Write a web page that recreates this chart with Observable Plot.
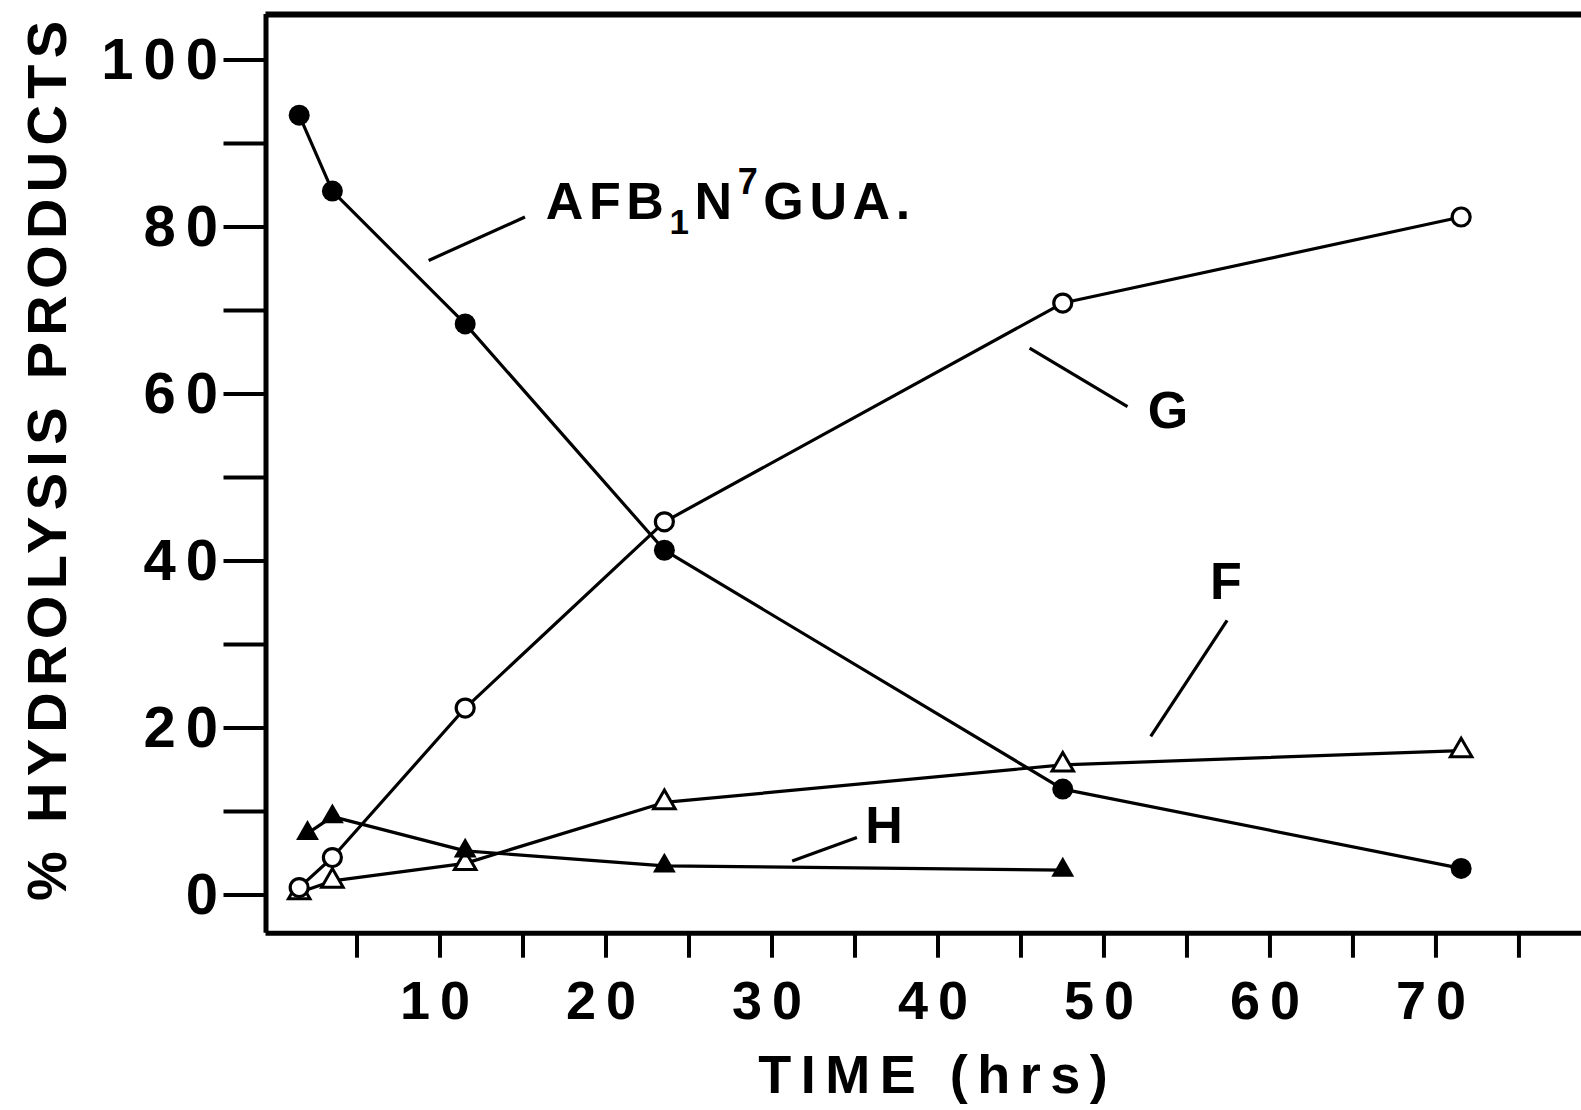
<!DOCTYPE html>
<html>
<head>
<meta charset="utf-8">
<script src="https://cdn.jsdelivr.net/npm/d3@7"></script>
<script src="https://cdn.jsdelivr.net/npm/@observablehq/plot@0.6"></script>
<style>
  html, body { margin: 0; padding: 0; background: #fff; }
  #chart svg { display: block; }
  g[aria-label="y-axis tick label"] text { letter-spacing: 10px; }
  g[aria-label="x-axis tick label"] text { letter-spacing: 10px; }
  g[aria-label="y-axis label"] { font-size: 56px; }
  g[aria-label="y-axis label"] text { letter-spacing: 6.3px; }
  g[aria-label="x-axis label"] { font-size: 54px; }
  g[aria-label="x-axis label"] text { letter-spacing: 9.5px; }
  .annot text { letter-spacing: 5.6px; }
</style>
</head>
<body>
<div id="chart"></div>
<script>
// ---- data ----
const hours = [2, 4, 12, 24, 48, 72];
const afbN7Gua = [93.4, 84.3, 68.4, 41.3, 12.7, 3.2];   // filled circles
const productG = [0.9, 4.5, 22.4, 44.7, 70.9, 81.2];    // open circles
const productF = [0.3, 1.7, 3.8, 11.1, 15.6, 17.3];     // open triangles
const hoursH   = [2.5, 4, 12, 24, 48];
const productH = [7.4, 9.4, 5.3, 3.5, 3.0];             // filled triangles

const yTicks = [0, 10, 20, 30, 40, 50, 60, 70, 80, 90, 100];
const yTickLabels = [0, 20, 40, 60, 80, 100];
const xTicks = [5, 10, 15, 20, 25, 30, 35, 40, 45, 50, 55, 60, 65, 70, 75];
const xTickLabels = [10, 20, 30, 40, 50, 60, 70];

const xDomain = [0, 79.25];
const yDomain = [-4.56, 105.45];

const yTitle = "% HYDROLYSIS PRODUCTS";
const xTitle = "TIME (hrs)";

// curve labels and their leader lines
const labelText = ["AFB1N7GUA.", "G", "F", "H"];
const labelX = [28.0, 54.5, 58.0, 37.4];
const labelY = [82.9, 57.9, 37.4, 8.2];
const leaderX1 = [9.8, 46.0, 57.9, 31.7];
const leaderY1 = [76.0, 65.5, 32.9, 4.1];
const leaderX2 = [15.6, 51.9, 53.3, 35.6];
const leaderY2 = [81.2, 58.5, 19.0, 6.9];

// ---- tables ----
const rows = (xs, ys) => xs.map((x, i) => ({x, y: ys[i]}));
const afb = rows(hours, afbN7Gua);
const g = rows(hours, productG);
const f = rows(hours, productF);
const h = rows(hoursH, productH);
const labels = labelText.map((t, i) => ({t, x: labelX[i], y: labelY[i]}));
const leaders = leaderX1.map((x1, i) => ({x1, y1: leaderY1[i], x2: leaderX2[i], y2: leaderY2[i]}));

const FONT = "'Liberation Sans', Arial, sans-serif";
const lineStyle = {x: "x", y: "y", stroke: "black", strokeWidth: 3.2};

const svg = Plot.plot({
  width: 1581,
  height: 1110,
  marginLeft: 265.5,
  marginRight: 0,
  marginTop: 14,
  marginBottom: 177.3,
  style: {fontFamily: FONT, fontWeight: "bold", color: "black", background: "white"},
  x: {domain: xDomain},
  y: {domain: yDomain},
  marks: [
    Plot.axisY({
      ticks: yTicks, tickSize: 42, tickPadding: -4, strokeWidth: 4,
      tickFormat: d => yTickLabels.includes(d) ? String(d) : "",
      fontSize: 58,
      label: yTitle, labelAnchor: "center", labelOffset: 240, labelArrow: "none"
    }),
    Plot.axisX({
      ticks: xTicks, tickSize: 25, tickPadding: 22, strokeWidth: 4,
      tickFormat: d => xTickLabels.includes(d) ? String(d) : "",
      fontSize: 54, dx: 8,
      label: xTitle, labelAnchor: "center", labelOffset: 160, labelArrow: "none"
    }),
    // frame
    Plot.ruleY([yDomain[1]], {stroke: "black", strokeWidth: 6}),
    Plot.ruleY([yDomain[0]], {stroke: "black", strokeWidth: 5}),
    Plot.ruleX([xDomain[0]], {stroke: "black", strokeWidth: 5}),
    // leader lines
    Plot.link(leaders, {x1: "x1", y1: "y1", x2: "x2", y2: "y2", stroke: "black", strokeWidth: 3.2}),
    // series lines
    Plot.line(afb, lineStyle),
    Plot.line(g, lineStyle),
    Plot.line(f, lineStyle),
    Plot.line(h, lineStyle),
    // markers
    Plot.dot(f, {x: "x", y: "y", symbol: "triangle", r: 8, fill: "white", stroke: "black", strokeWidth: 3}),
    Plot.dot(g, {x: "x", y: "y", symbol: "circle", r: 9, fill: "white", stroke: "black", strokeWidth: 3.2}),
    Plot.dot(h, {x: "x", y: "y", symbol: "triangle", r: 8.5, fill: "black", stroke: "none"}),
    Plot.dot(afb, {x: "x", y: "y", symbol: "circle", r: 10.5, fill: "black", stroke: "none"}),
    // curve labels
    Plot.text(labels, {x: "x", y: "y", text: "t", fontSize: 52, fontWeight: "bold", fill: "black",
      textAnchor: "middle", lineAnchor: "middle", className: "annot"})
  ]
});

// sub/superscripts in the AFB1 N7 GUA label
d3.select(svg).selectAll("text")
  .filter(function () { return this.textContent === labelText[0]; })
  .each(function () {
    const t = d3.select(this);
    t.text(null);
    t.append("tspan").text("AFB");
    t.append("tspan").attr("dy", 15).attr("font-size", 35).text("1");
    t.append("tspan").attr("dy", -15).text("N");
    t.append("tspan").attr("dy", -25).attr("font-size", 36).text("7");
    t.append("tspan").attr("dy", 25).text("GUA.");
  });

// nudge axis titles to the centre of the lettering in the figure
d3.select(svg).select('g[aria-label="y-axis label"] text').attr("dx", 16);
d3.select(svg).select('g[aria-label="x-axis label"] text').attr("dx", 14);

document.getElementById("chart").appendChild(svg);
</script>
</body>
</html>
